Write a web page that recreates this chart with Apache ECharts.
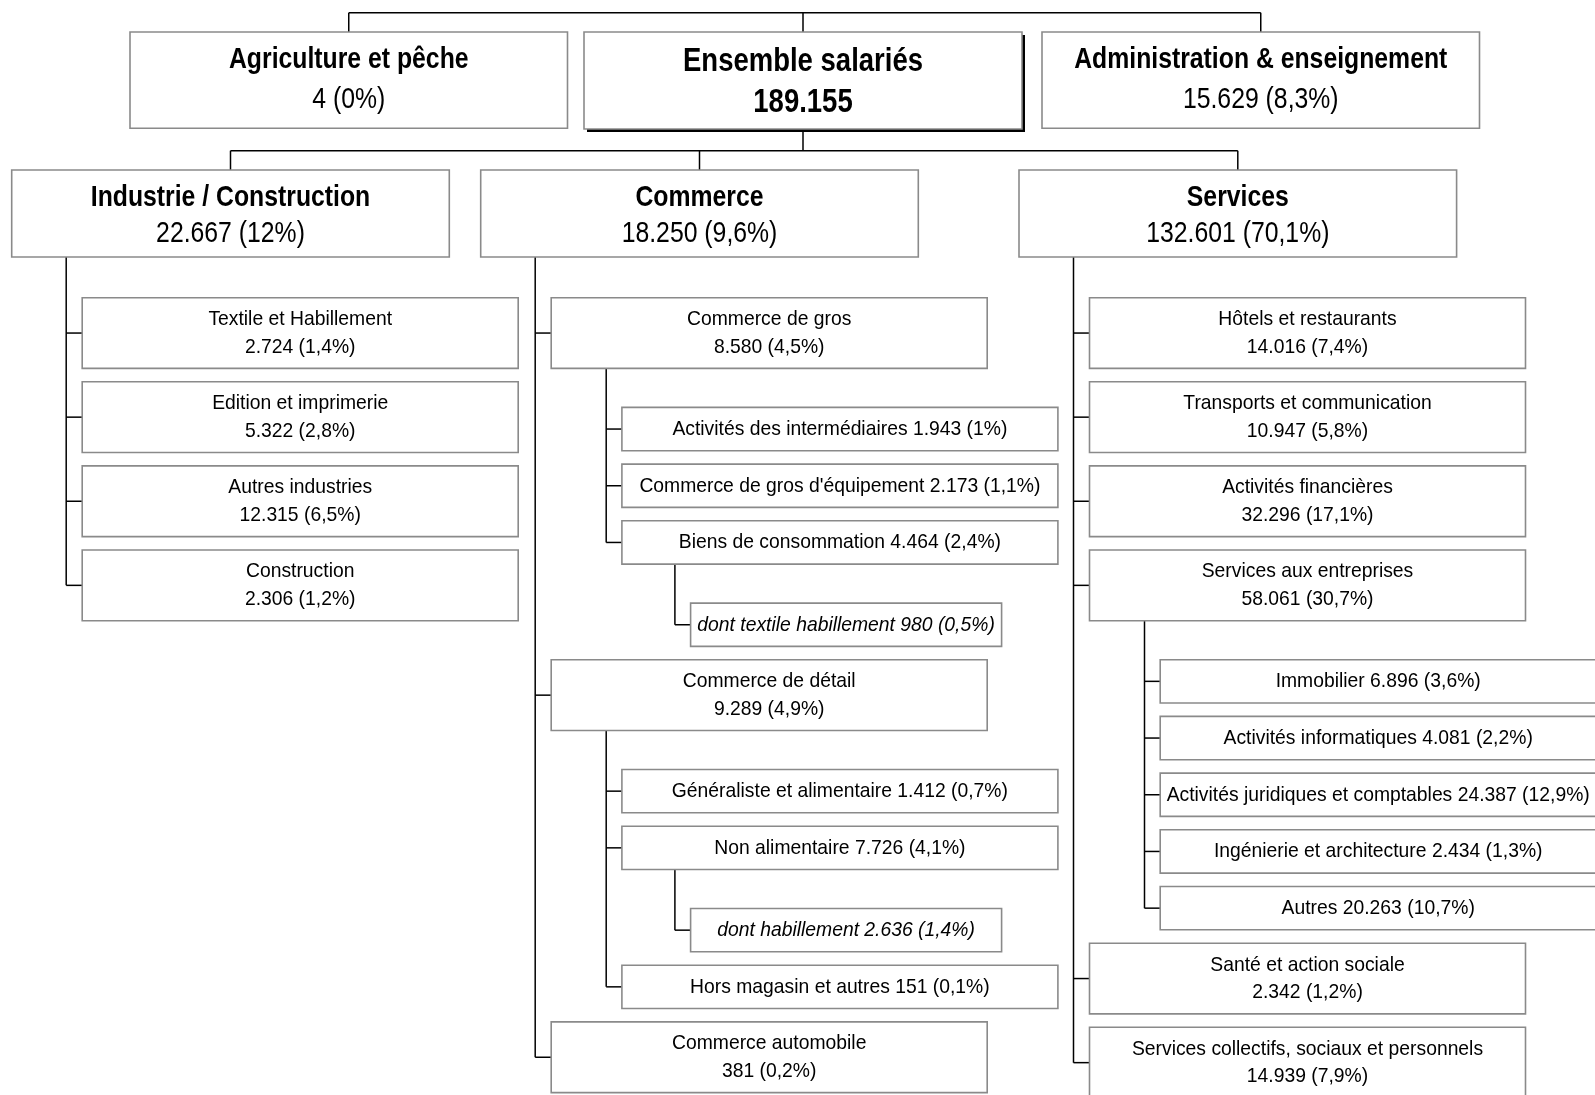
<!DOCTYPE html>
<html><head><meta charset="utf-8">
<script src="https://cdn.jsdelivr.net/npm/echarts@6/dist/echarts.min.js"></script>
<style>html,body{margin:0;padding:0;background:#fff}#c{width:1595px;height:1095px}</style>
</head><body><div id="c"></div>
<script>
// ---------- DATA ----------
const rootLabel = 'Ensemble salariés';
const rootCount = 189155;
const sideLabels = ['Agriculture et pêche', 'Administration & enseignement'];
const sideCounts = [4, 15629];
const sidePcts = [0, 8.3];
const sectorLabels = ['Industrie / Construction', 'Commerce', 'Services'];
const sectorCounts = [22667, 18250, 132601];
const sectorPcts = [12, 9.6, 70.1];

const dontTextile = [['dont textile habillement', 980, 0.5]];
const dontHabillement = [['dont habillement', 2636, 1.4]];
const commerceGros = [
  ['Activités des intermédiaires', 1943, 1],
  ["Commerce de gros d'équipement", 2173, 1.1],
  ['Biens de consommation', 4464, 2.4, dontTextile]
];
const commerceDetail = [
  ['Généraliste et alimentaire', 1412, 0.7],
  ['Non alimentaire', 7726, 4.1, dontHabillement],
  ['Hors magasin et autres', 151, 0.1]
];
const servicesEntreprises = [
  ['Immobilier', 6896, 3.6],
  ['Activités informatiques', 4081, 2.2],
  ['Activités juridiques et comptables', 24387, 12.9],
  ['Ingénierie et architecture', 2434, 1.3],
  ['Autres', 20263, 10.7]
];
const industrieItems = [
  ['Textile et Habillement', 2724, 1.4],
  ['Edition et imprimerie', 5322, 2.8],
  ['Autres industries', 12315, 6.5],
  ['Construction', 2306, 1.2]
];
const commerceItems = [
  ['Commerce de gros', 8580, 4.5, commerceGros],
  ['Commerce de détail', 9289, 4.9, commerceDetail],
  ['Commerce automobile', 381, 0.2]
];
const servicesItems = [
  ['Hôtels et restaurants', 14016, 7.4],
  ['Transports et communication', 10947, 5.8],
  ['Activités financières', 32296, 17.1],
  ['Services aux entreprises', 58061, 30.7, servicesEntreprises],
  ['Santé et action sociale', 2342, 1.2],
  ['Services collectifs, sociaux et personnels', 14939, 7.9]
];
const sectorItems = [industrieItems, commerceItems, servicesItems];

// ---------- FORMAT ----------
const fmtCount = n => String(n).replace(/\B(?=(\d{3})+(?!\d))/g, '.');
const fmtPct = p => String(p).replace('.', ',') + '%';
const FF = '"Liberation Sans", Arial, sans-serif';
const TITLE = {font: 'bold 29.5px ' + FF, sx: 0.84};
const TITLE_N = {font: '29.5px ' + FF, sx: 0.84};
const ROOT = {font: 'bold 32.5px ' + FF, sx: 0.846};
const SMALL = {font: '21px ' + FF, sx: 0.92};
const SMALL_I = {font: 'italic 21px ' + FF, sx: 0.92};

// ---------- LAYOUT (computed from the tree) ----------
const boxes = [];
const segs = [];
function addBox(x, y, w, h, lines, kind) { boxes.push({x, y, w, h, lines, kind}); }
function ln(text, st, dy) { return {text, font: st.font, sx: st.sx, dy}; }

// top row
const topY = 12.7, topBoxY = 32;
const sideLefts = [130, 1042], sideW = 437.5, sideH = 96.3;
const rootLeft = 584, rootW = 438, rootH = 97;
addBox(sideLefts[0], topBoxY, sideW, sideH, [
  ln(sideLabels[0], TITLE, -20.5),
  ln(fmtCount(sideCounts[0]) + ' (' + fmtPct(sidePcts[0]) + ')', TITLE_N, 20)], 'plain');
addBox(rootLeft, topBoxY, rootW, rootH, [
  ln(rootLabel, ROOT, -18.5),
  ln(fmtCount(rootCount), ROOT, 22.5)], 'shadow');
addBox(sideLefts[1], topBoxY, sideW, sideH, [
  ln(sideLabels[1], TITLE, -20.5),
  ln(fmtCount(sideCounts[1]) + ' (' + fmtPct(sidePcts[1]) + ')', TITLE_N, 20)], 'plain');
const agriCx = sideLefts[0] + sideW / 2, adminCx = sideLefts[1] + sideW / 2, rootCx = rootLeft + rootW / 2;
segs.push([agriCx, topY, adminCx, topY]);
segs.push([agriCx, topY, agriCx, topBoxY]);
segs.push([rootCx, topY, rootCx, topBoxY]);
segs.push([adminCx, topY, adminCx, topBoxY]);

// sector row
const busY = 150.7, secTop = 170, secH = 87, secW = 437.6;
const secLefts = [11.7, 480.7, 1019];
segs.push([rootCx, topBoxY + rootH, rootCx, busY]);
segs.push([secLefts[0] + secW / 2, busY, secLefts[2] + secW / 2, busY]);
secLefts.forEach((l, i) => {
  segs.push([l + secW / 2, busY, l + secW / 2, secTop]);
  addBox(l, secTop, secW, secH, [
    ln(sectorLabels[i], TITLE, -15.5),
    ln(fmtCount(sectorCounts[i]) + ' (' + fmtPct(sectorPcts[i]) + ')', TITLE_N, 20.5)], 'plain');
});

// branches
const GAP = 13.4, CHILD_GAP = 39, H2 = 70.7, H3 = 43.3;
const WIDTHS = {2: 436, 3: 436, 4: 311};
const INDENT = {2: 16, 3: 15.7, 4: 15.7};
const SUBLINE = {2: 55, 3: 53};
function placeList(items, lineX, startY, level) {
  let y = startY, lastMid = startY;
  items.forEach((it, k) => {
    const left = lineX + INDENT[level];
    const w = WIDTHS[level];
    const h = level === 2 ? H2 : H3;
    let lines;
    if (level === 2) {
      lines = [ln(it[0], SMALL, -13.8),
               ln(fmtCount(it[1]) + ' (' + fmtPct(it[2]) + ')', SMALL, 13.7)];
    } else {
      lines = [ln(it[0] + ' ' + fmtCount(it[1]) + ' (' + fmtPct(it[2]) + ')',
                  level === 4 ? SMALL_I : SMALL, 0)];
    }
    addBox(left, y, w, h, lines, 'plain');
    const mid = y + h / 2;
    segs.push([lineX, mid, left, mid]);
    lastMid = mid;
    y += h;
    if (it[3]) {
      const subX = left + SUBLINE[level];
      const res = placeList(it[3], subX, y + CHILD_GAP, level + 1);
      segs.push([subX, y, subX, res.lastMid]);
      y = res.endY;
    }
    if (k < items.length - 1) y += GAP;
  });
  return {endY: y, lastMid};
}
secLefts.forEach((l, i) => {
  const colX = l + 54.5;
  const res = placeList(sectorItems[i], colX, 297.7, 2);
  segs.push([colX, secTop + secH, colX, res.lastMid]);
});

// ---------- CHART ----------
const chart = echarts.init(document.getElementById('c'), null, {renderer: 'canvas'});
chart.setOption({
  animation: false,
  backgroundColor: '#fff',
  grid: {left: 0, right: 0, top: 0, bottom: 0},
  xAxis: {type: 'value', min: 0, max: 1595, show: false},
  yAxis: {type: 'value', min: 0, max: 1095, inverse: true, show: false},
  series: [
    {
      type: 'custom', coordinateSystem: 'cartesian2d', silent: true, clip: false,
      data: segs, encode: {x: [0, 2], y: [1, 3]},
      renderItem: (params, api) => {
        const p1 = api.coord([api.value(0), api.value(1)]);
        const p2 = api.coord([api.value(2), api.value(3)]);
        return {type: 'line', shape: {x1: p1[0], y1: p1[1], x2: p2[0], y2: p2[1]},
                style: {stroke: '#000', lineWidth: 1.5}};
      }
    },
    {
      type: 'custom', coordinateSystem: 'cartesian2d', silent: true, clip: false,
      data: boxes.map((b, i) => [b.x, b.y, b.x + b.w, b.y + b.h, i]),
      encode: {x: [0, 2], y: [1, 3]},
      renderItem: (params, api) => {
        const b = boxes[api.value(4)];
        const p1 = api.coord([api.value(0), api.value(1)]);
        const p2 = api.coord([api.value(2), api.value(3)]);
        const x = p1[0], y = p1[1], w = p2[0] - p1[0], h = p2[1] - p1[1];
        const cx = x + w / 2, cy = y + h / 2;
        const children = [];
        if (b.kind === 'shadow') {
          children.push({type: 'rect', shape: {x: x + 3, y: y + 3, width: w, height: h},
                         style: {fill: '#000'}});
        }
        children.push({type: 'rect', shape: {x: x, y: y, width: w, height: h},
                       style: {fill: '#fff', stroke: '#8a8a8a', lineWidth: 1.6}});
        b.lines.forEach(l => {
          children.push({type: 'text', x: cx, y: cy + l.dy, scaleX: l.sx,
                         style: {text: l.text, x: 0, y: 0, font: l.font,
                                 fill: '#000', align: 'center', verticalAlign: 'middle'}});
        });
        return {type: 'group', children};
      }
    }
  ]
});
</script></body></html>
